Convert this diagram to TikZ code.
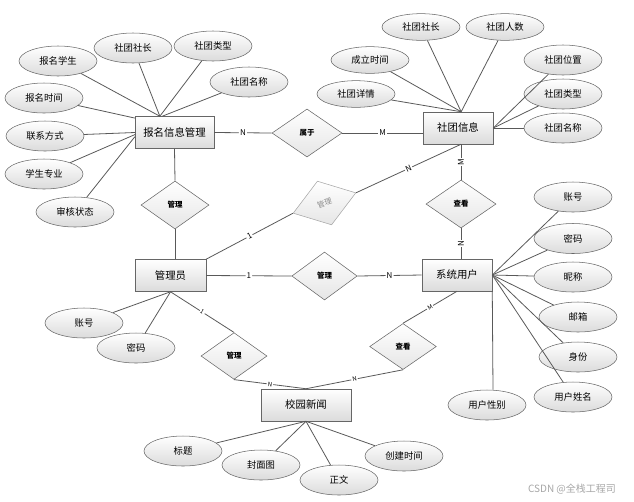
\documentclass[tikz,border=0pt]{standalone}
\usepackage{fontspec}
\setmainfont{Noto Sans CJK SC}
\usetikzlibrary{shapes.geometric}

\tikzset{
  attr/.style={ellipse, draw=black!60, top color=white, bottom color=black!14,
    minimum width=58.5pt, minimum height=22.5pt, inner sep=0pt,
    font=\fontsize{7}{8}\selectfont},
  entity/.style={rectangle, draw=black!60, top color=white, bottom color=black!14,
    minimum height=24pt, inner sep=0pt, font=\fontsize{7.8}{9}\selectfont},
  relation/.style={diamond, draw=black!60, top color=white, bottom color=black!10,
    minimum width=51pt, minimum height=36pt, inner sep=0pt,
    font=\fontsize{5.6}{6}\selectfont\bfseries},
  conn/.style={draw=black!65, line width=0.6pt},
  card/.style={fill=white, inner sep=0.8pt, sloped, font=\fontsize{6}{6}\selectfont},
  cards/.style={card, font=\fontsize{4.5}{5}\selectfont},
}

\begin{document}
\begin{tikzpicture}[x=0.75pt, y=-0.75pt]
  \useasboundingbox (0,0) rectangle (634,501);

  % entities
  \node[entity, minimum width=59pt] (bm) at (174.5,132.5) {报名信息管理};
  \node[entity, minimum width=52.5pt] (sxx) at (458,128) {社团信息};
  \node[entity, minimum width=53pt] (gly) at (170.5,275.5) {管理员};
  \node[entity, minimum width=52.5pt] (xtyh) at (457,275) {系统用户};
  \node[entity, minimum width=67.5pt] (xyxw) at (306,405) {校园新闻};

  % relations
  \node[relation, minimum width=52.5pt] (sy) at (307,133) {属于};
  \node[relation] (gl1) at (175,205) {管理};
  \node[relation, rotate=18, draw=black!35, text=black!45,
    minimum width=49.5pt, minimum height=34.5pt] (gl2) at (324.5,203) {\mdseries 管理};
  \node[relation, minimum width=49pt] (gl3) at (324.5,276) {管理};
  \node[relation, minimum width=52.5pt] (ck1) at (461,204) {查看};
  \node[relation, minimum width=50pt, minimum height=34.5pt] (ck2) at (403,346.5) {查看};
  \node[relation, minimum width=49.5pt, minimum height=35pt] (gl4) at (234,356) {管理};

  % attributes of 报名信息管理
  \node[attr] (bmxs) at (58,61) {报名学生};
  \node[attr] (stsz1) at (133,48) {社团社长};
  \node[attr] (sttx1) at (213,46) {社团类型};
  \node[attr] (stmc1) at (249,82) {社团名称};
  \node[attr] (bmsj) at (44,98) {报名时间};
  \node[attr] (lxfs) at (45,136) {联系方式};
  \node[attr] (xszy) at (44,174) {学生专业};
  \node[attr] (shzt) at (75,212) {审核状态};

  % attributes of 社团信息
  \node[attr, minimum height=20pt] (stsz2) at (421,27) {社团社长};
  \node[attr, minimum height=20pt] (strs) at (505,27) {社团人数};
  \node[attr, minimum height=20pt] (clsj) at (370,60) {成立时间};
  \node[attr, minimum height=20pt] (stxq) at (356,94) {社团详情};
  \node[attr] (stwz) at (563,60) {社团位置};
  \node[attr] (sttx2) at (563,94) {社团类型};
  \node[attr] (stmc2) at (563,128) {社团名称};

  % attributes of 系统用户
  \node[attr] (zh1) at (573,197) {账号};
  \node[attr] (mm1) at (573,238.5) {密码};
  \node[attr] (nc) at (573,277) {昵称};
  \node[attr] (yx) at (578,317) {邮箱};
  \node[attr] (sf) at (578,357) {身份};
  \node[attr] (yhxm) at (573,397) {用户姓名};
  \node[attr] (yhxb) at (487,405) {用户性别};

  % attributes of 管理员
  \node[attr] (zh2) at (84,323) {账号};
  \node[attr] (mm2) at (136,348) {密码};

  % attributes of 校园新闻
  \node[attr] (bt) at (183,451) {标题};
  \node[attr] (fmt) at (261,465) {封面图};
  \node[attr] (zw) at (339,480) {正文};
  \node[attr] (cjsj) at (404,456) {创建时间};

  \node[text=black!35, font=\fontsize{7.5}{8}\selectfont] (wm) at (572,489) {CSDN @全栈工程司};

  \path[conn]
    (bmxs) edge (bm.132)
    (stsz1) edge (bm.132)
    (sttx1) edge (bm.132)
    (stmc1) edge (bm.127)
    (bmsj) edge (bm.160)
    (lxfs) edge (bm.west)
    (xszy) edge (bm.183)
    (shzt) edge (bm.186)
    (stsz2) edge (sxx.79)
    (strs) edge (sxx.79)
    (clsj) edge (sxx.79)
    (stxq) edge (sxx.79)
    (stwz) edge (sxx.east)
    (sttx2) edge (sxx.east)
    (stmc2) edge (sxx.east)
    (zh1) edge (xtyh.east)
    (mm1) edge (xtyh.east)
    (nc) edge (xtyh.east)
    (yx) edge (xtyh.east)
    (sf) edge (xtyh.east)
    (yhxm) edge (xtyh.east)
    (xtyh.south east) edge ([xshift=4.5pt]yhxb.north)
    (zh2) edge (gly.south)
    (mm2) edge (gly.south)
    (bt) edge (xyxw.south)
    (fmt) edge (xyxw.south)
    (zw) edge (xyxw.south)
    (cjsj) edge (xyxw.south)
    (bm.east) edge node[card] {N} (sy.west)
    (sy.east) edge node[card] {M} (sy.east -| sxx.west)
    (bm.south) edge (gl1.north)
    (gl1.south) edge (gl1.south |- gly.north)
    (gly.north east) edge node[card] {1} (gl2.west)
    (gl2.east) edge node[card] {N} (ck1.north |- sxx.south)
    (ck1.north) edge node[card] {M} (ck1.north |- sxx.south)
    (ck1.south |- xtyh.north) edge node[card] {N} (ck1.south)
    (gly.east) edge node[card] {1} (gl3.west)
    (gl3.east) edge node[card] {N} (xtyh.west)
    (xtyh.south) edge node[cards] {M} (ck2.north)
    (ck2.south) edge node[cards] {N} (xyxw.north)
    (gly.south) edge node[cards] {1} (gl4.north)
    (gl4.south) edge node[cards] {N} (xyxw.north)
    ;
\end{tikzpicture}
\end{document}
